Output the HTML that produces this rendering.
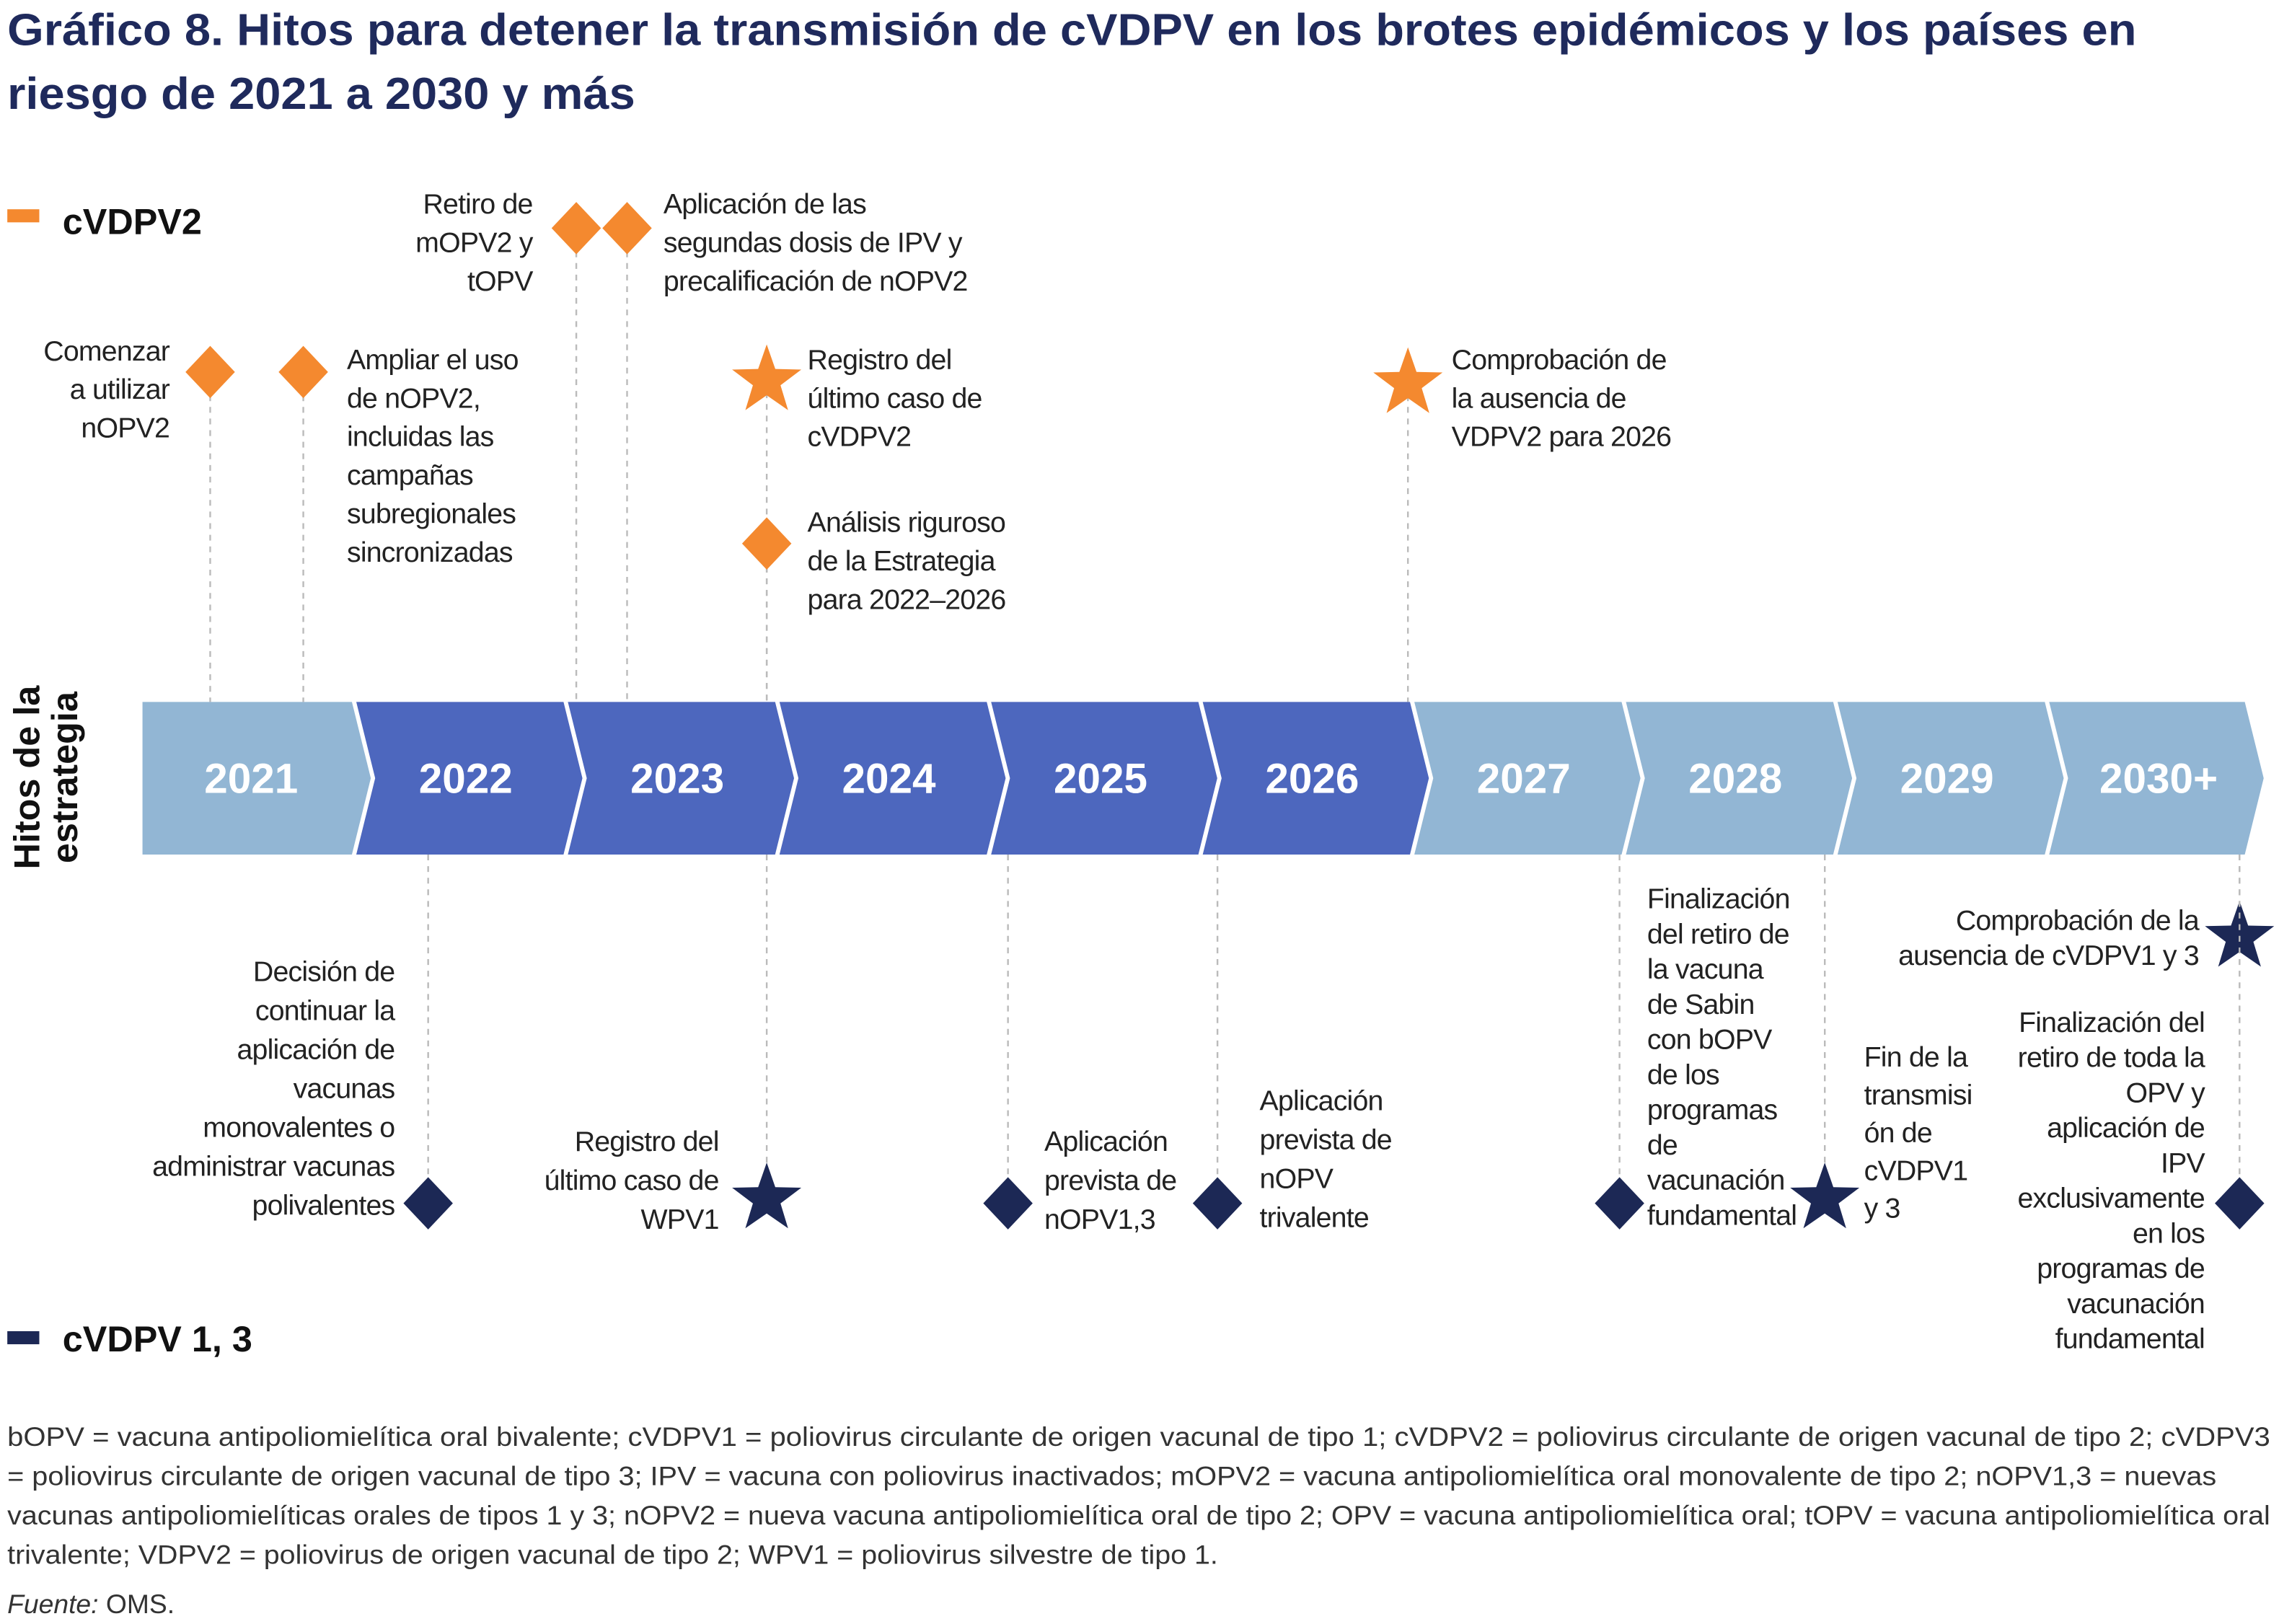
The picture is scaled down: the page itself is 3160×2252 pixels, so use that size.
<!DOCTYPE html>
<html><head><meta charset="utf-8"><style>
html,body{margin:0;padding:0;background:#fff}
svg{display:block}
text{font-family:"Liberation Sans",Arial,sans-serif}
</style></head><body>
<svg id="chart" width="3160" height="2252" viewBox="0 0 1568 1117.5" xmlns="http://www.w3.org/2000/svg">
<g fill="#1f2a5c" font-weight="bold" font-size="31">
<text x="5" y="31" textLength="1465" lengthAdjust="spacingAndGlyphs">Gráfico 8. Hitos para detener la transmisión de cVDPV en los brotes epidémicos y los países en</text>
<text x="5" y="75" textLength="432" lengthAdjust="spacingAndGlyphs">riesgo de 2021 a 2030 y más</text>
</g>
<g>
<rect x="5" y="144" width="22" height="9" fill="#f4892f"/>
<text x="43" y="161" font-size="25" font-weight="bold" fill="#111">cVDPV2</text>
</g>
<g>
<rect x="5" y="916" width="22" height="9" fill="#1c2855"/>
<text x="43" y="930" font-size="25" font-weight="bold" fill="#111">cVDPV 1, 3</text>
</g>
<text transform="translate(27,535) rotate(-90)" text-anchor="middle" font-size="25" font-weight="bold" fill="#111"><tspan x="0" y="0">Hitos de la</tspan><tspan x="0" y="26">estrategia</tspan></text>
<g id="bars"></g>
<g id="marks"></g>
<g font-size="18.5" fill="#333">
<text x="5" y="995" textLength="1557" lengthAdjust="spacingAndGlyphs">bOPV = vacuna antipoliomielítica oral bivalente; cVDPV1 = poliovirus circulante de origen vacunal de tipo 1; cVDPV2 = poliovirus circulante de origen vacunal de tipo 2; cVDPV3</text>
<text x="5" y="1022" textLength="1520" lengthAdjust="spacingAndGlyphs">= poliovirus circulante de origen vacunal de tipo 3; IPV = vacuna con poliovirus inactivados; mOPV2 = vacuna antipoliomielítica oral monovalente de tipo 2; nOPV1,3 = nuevas</text>
<text x="5" y="1049" textLength="1557" lengthAdjust="spacingAndGlyphs">vacunas antipoliomielíticas orales de tipos 1 y 3; nOPV2 = nueva vacuna antipoliomielítica oral de tipo 2; OPV = vacuna antipoliomielítica oral; tOPV = vacuna antipoliomielítica oral</text>
<text x="5" y="1076" textLength="833" lengthAdjust="spacingAndGlyphs">trivalente; VDPV2 = poliovirus de origen vacunal de tipo 2; WPV1 = poliovirus silvestre de tipo 1.</text>
<text x="5" y="1110"><tspan font-style="italic">Fuente:</tspan> OMS.</text>
</g>
</svg>
<script>
const years = ['2021','2022','2023','2024','2025','2026','2027','2028','2029','2030+'];
const yearPhase = ['light','dark','dark','dark','dark','dark','light','light','light','light'];
// milestone positions in year units along the timeline
const msYear = [2021.32, 2021.76, 2023.05, 2023.29, 2023.95, 2023.95, 2026.98, 2022.35, 2023.95, 2025.09, 2026.08, 2027.98, 2028.95, 2030.91, 2030.91];
const msSeries = ['v2','v2','v2','v2','v2','v2','v2','v13','v13','v13','v13','v13','v13','v13','v13'];
const msShape = ['diamond','diamond','diamond','diamond','star','diamond','star','diamond','star','diamond','diamond','diamond','star','star','diamond'];
const msLabels = [
 ['Comenzar','a utilizar','nOPV2'],
 ['Ampliar el uso','de nOPV2,','incluidas las','campañas','subregionales','sincronizadas'],
 ['Retiro de','mOPV2 y','tOPV'],
 ['Aplicación de las','segundas dosis de IPV y','precalificación de nOPV2'],
 ['Registro del','último caso de','cVDPV2'],
 ['Análisis riguroso','de la Estrategia','para 2022–2026'],
 ['Comprobación de','la ausencia de','VDPV2 para 2026'],
 ['Decisión de','continuar la','aplicación de','vacunas','monovalentes o','administrar vacunas','polivalentes'],
 ['Registro del','último caso de','WPV1'],
 ['Aplicación','prevista de','nOPV1,3'],
 ['Aplicación','prevista de','nOPV','trivalente'],
 ['Finalización','del retiro de','la vacuna','de Sabin','con bOPV','de los','programas','de','vacunación','fundamental'],
 ['Fin de la','transmisi','ón de','cVDPV1','y 3'],
 ['Comprobación de la','ausencia de cVDPV1 y 3'],
 ['Finalización del','retiro de toda la','OPV y','aplicación de','IPV','exclusivamente','en los','programas de','vacunación','fundamental']
];
// layout (not data)
const markY = [256,256,157,157,262,374,264,828,825,828,828,828,825,645,828];
const labelSide = ['l','r','l','r','r','r','r','l','l','r','r','r','r','l','l'];
const labelTop = [248,254,147,147,254,366,254,675,792,792,764,625,734,640,710];
const lineH = [26.5,26.5,26.5,26.5,26.5,26.5,26.5,26.8,26.8,26.8,26.8,24.2,26,24,24.2];
const labelOff = [28,30,30,25,28,28,30,23,33,25,29,19,27,28,24];

const NS='http://www.w3.org/2000/svg';
const X0=98, SEG=145.6, TOP=483, BOT=588, MID=535.5, TIP=13;
const xScale = v => X0 + (v-2021)*SEG;
function mk(tag, attrs, parent){const e=document.createElementNS(NS,tag);for(const k in attrs)e.setAttribute(k,attrs[k]);parent.appendChild(e);return e;}
const bars=document.getElementById('bars');
years.forEach((y,i)=>{
  const x0=X0+i*SEG+(i?1.5:0), x1=X0+(i+1)*SEG-1.5-(i===years.length-1?8:0);
  const pts = i===0 ? `${x0},${TOP} ${x1},${TOP} ${x1+TIP},${MID} ${x1},${BOT} ${x0},${BOT}`
    : `${x0},${TOP} ${x1},${TOP} ${x1+TIP},${MID} ${x1},${BOT} ${x0},${BOT} ${x0+TIP},${MID}`;
  const p=mk('polygon',{points:pts,fill:yearPhase[i]==='dark'?'#4d67be':'#92b6d4'},bars);
  
  
  const t=mk('text',{x:X0+i*SEG+SEG/2+(i?4:2),y:MID+10,'text-anchor':'middle','font-size':29,'font-weight':'bold',fill:'#fff'},bars);
  t.textContent=y;
  
  
});
const marks=document.getElementById('marks');
msYear.forEach((v,i)=>{
  const x=xScale(v), my=markY[i], col=msSeries[i]==='v2'?'#f4892f':'#1c2855';
  const g=mk('g',{},marks);
  
  
  const top = msSeries[i]==='v2';
  mk('line',{x1:x,x2:x,y1:top?my:BOT,y2:top?TOP:my,stroke:'#bbb','stroke-width':1.2,'stroke-dasharray':'4,4'},g);
  if(msShape[i]==='diamond'){
    mk('polygon',{points:`${x},${my-18} ${x+17},${my} ${x},${my+18} ${x-17},${my}`,fill:col},g);
  } else {
    let pts=[];for(let k=0;k<10;k++){const r=k%2?10:25,a=-Math.PI/2+k*Math.PI/5;pts.push((x+r*Math.cos(a)).toFixed(1)+','+(my+r*Math.sin(a)).toFixed(1));}
    mk('polygon',{points:pts.join(' '),fill:col},g);
  }
  const right=labelSide[i]==='r';
  const t=mk('text',{'font-size':19.5,fill:'#222','letter-spacing':'-0.4','text-anchor':right?'start':'end'},g);
  msLabels[i].forEach((s,j)=>{const ts=mk('tspan',{x:right?x+labelOff[i]:x-labelOff[i],y:labelTop[i]+j*lineH[i]},t);ts.textContent=s;});
});
</script>
</body></html>
